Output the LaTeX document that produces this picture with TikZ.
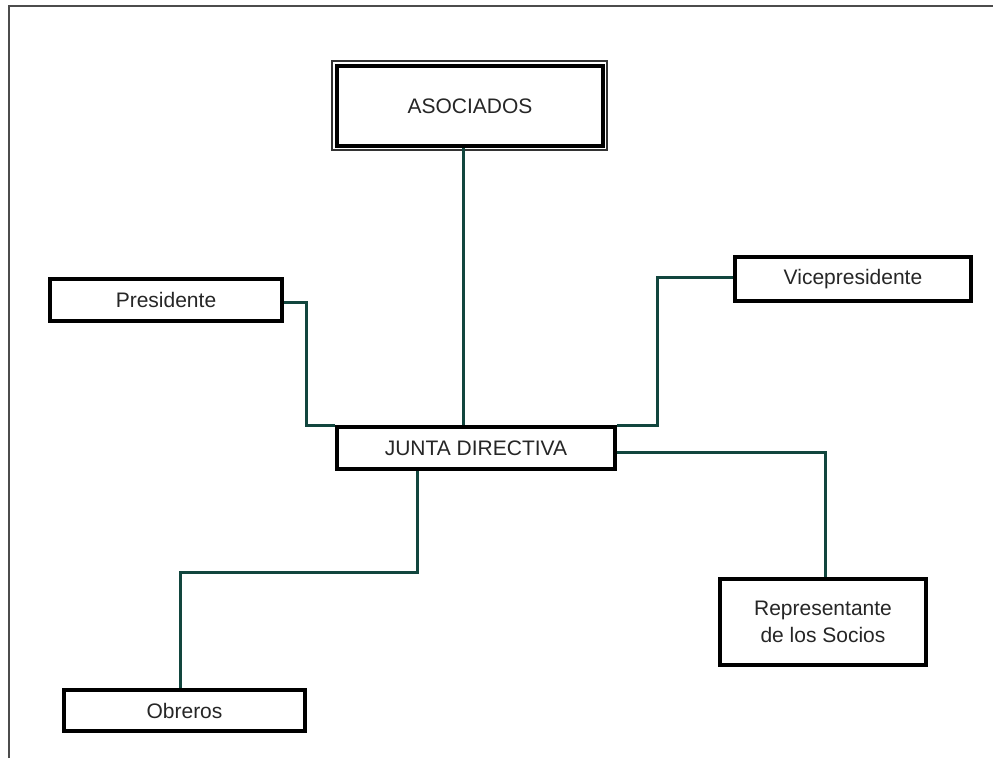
\documentclass[tikz,border=0pt]{standalone}
\usepackage{fontspec}
\setmainfont{Liberation Sans}
\usepackage{tikz}

\definecolor{linea}{RGB}{18,70,62}

\begin{document}
\begin{tikzpicture}[x=1pt,y=-1pt,thick,
                    main node/.style={rectangle,draw=black,line width=4pt,fill=white,inner sep=0pt,
                                      text=black!85,align=center,font=\fontsize{21}{27}\selectfont},
                    link/.style={draw=linea,line width=3pt}]
  \useasboundingbox (0,0) rectangle (993,758);

  % frame
  \draw[line width=1.5pt,black!70] (9,758) -- (9,6) -- (993,6);

  \node[rectangle,draw=black!80,line width=1.6pt,minimum width=275,minimum height=89] (asocframe) at (469.5,105.5) {};
  \node[main node,minimum width=266,minimum height=80] (asoc) at (470,106) {ASOCIADOS};
  \node[main node,minimum width=278,minimum height=42] (junta) at (476,448) {JUNTA DIRECTIVA};
  \node[main node,minimum width=232,minimum height=42] (pres)  at (166,300) {Presidente};
  \node[main node,minimum width=236,minimum height=44] (vice)  at (853,279) {Vicepresidente};
  \node[main node,minimum width=206,minimum height=86] (repr)  at (823,622) {Representante\\de los Socios};
  \node[main node,minimum width=241,minimum height=41] (obr)   at (184.5,710.5) {Obreros};

  \draw[link] ([xshift=-7pt]asoc.south) -- ([xshift=-7pt]asoc.south |- junta.north);
  \draw[link] ([yshift=-2pt]pres.east) -- ++(22,0) |- (junta.north west);
  \draw[link] ([yshift=2pt]vice.west) -- ++(-76,0) |- (junta.north east);
  \draw[link] ([yshift=-4pt]junta.east) -| ([xshift=2pt]repr.north);
  \draw[link] ([xshift=-59pt]junta.south) -- ++(0,101) -| ([xshift=-4.5pt]obr.north);
\end{tikzpicture}
\end{document}
